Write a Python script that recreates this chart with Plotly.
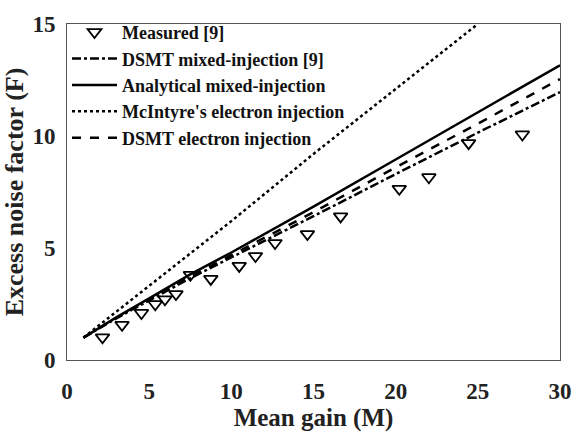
import plotly.graph_objects as go

# Measured data [9]
meas_M = [2.16, 3.35, 4.53, 5.37, 5.96, 6.63, 7.51, 8.75, 10.48, 11.47, 12.66, 14.63, 16.65, 20.22, 22.02, 24.44, 27.71]
meas_F = [1.01, 1.57, 2.10, 2.49, 2.71, 2.94, 3.80, 3.62, 4.20, 4.64, 5.22, 5.62, 6.41, 7.64, 8.16, 9.68, 10.07]

# Model curves
curve_M = [1, 3, 5, 7.5, 10, 15, 20, 25, 30]
dsmt_mixed_F = [1.0, 1.86, 2.66, 3.65, 4.58, 6.42, 8.30, 10.15, 11.96]
analytical_F = [1.0, 1.90, 2.75, 3.82, 4.80, 6.85, 8.95, 11.05, 13.16]
dsmt_elec_F = [1.0, 1.88, 2.70, 3.72, 4.68, 6.60, 8.60, 10.55, 12.54]

mcintyre_M = [1, 3, 5, 10, 15, 20, 25]
mcintyre_F = [1.0, 2.15, 3.30, 6.20, 9.20, 12.10, 15.0]

# Tick labels
x_tick_vals = list(range(0, 31))
x_tick_text = [str(v) if v % 5 == 0 else "" for v in x_tick_vals]
y_tick_vals = list(range(0, 16))
y_tick_text = [str(v) if v % 5 == 0 else "" for v in y_tick_vals]

font_family = "Liberation Serif"

fig = go.Figure()
fig.add_trace(go.Scatter(x=meas_M, y=meas_F, mode="markers", name="Measured [9]",
                         marker=dict(symbol="triangle-down-open", size=12, color="black",
                                     line=dict(width=1.8, color="black"))))
fig.add_trace(go.Scatter(x=curve_M, y=dsmt_mixed_F, mode="lines", name="DSMT mixed-injection [9]",
                         line=dict(color="black", width=2.5, dash="dashdot")))
fig.add_trace(go.Scatter(x=curve_M, y=analytical_F, mode="lines", name="Analytical mixed-injection",
                         line=dict(color="black", width=2.5, dash="solid")))
fig.add_trace(go.Scatter(x=mcintyre_M, y=mcintyre_F, mode="lines", name="McIntyre's electron injection",
                         line=dict(color="black", width=2.5, dash="dot")))
fig.add_trace(go.Scatter(x=curve_M, y=dsmt_elec_F, mode="lines", name="DSMT electron injection",
                         line=dict(color="black", width=2.5, dash="dash")))

main_axis = dict(
    showgrid=False, zeroline=False, showline=True, linecolor="#555", linewidth=1,
    mirror=True, ticks="", tickmode="array",
    tickfont=dict(family=font_family, size=23, color="#222", weight="bold"),
)

# Tick-only helper axes: their "outside" ticks point into the plot area
tick_axis = dict(
    showgrid=False, zeroline=False, showline=False, showticklabels=False,
    ticks="outside", ticklen=5, tickcolor="#555", tickwidth=1,
    tickmode="array", anchor="free",
)

fig.update_layout(
    width=584, height=435,
    margin=dict(l=67, r=12, t=15, b=75),
    plot_bgcolor="white", paper_bgcolor="white",
    xaxis=dict(range=[0, 30], tickvals=x_tick_vals, ticktext=x_tick_text, ticklabelstandoff=10,
               title=dict(text="Mean gain (M)", standoff=2,
                          font=dict(family=font_family, size=25, color="#222", weight="bold")),
               **main_axis),
    yaxis=dict(range=[0, 15], tickvals=y_tick_vals, ticktext=y_tick_text, ticklabelstandoff=6,
               title=dict(text="Excess noise factor (F)", standoff=2,
                          font=dict(family=font_family, size=26, color="#222", weight="bold")),
               **main_axis),
    xaxis2=dict(overlaying="x", side="top", position=0, range=[0, 30], tickvals=x_tick_vals, **tick_axis),
    xaxis3=dict(overlaying="x", side="bottom", position=1, range=[0, 30], tickvals=x_tick_vals, **tick_axis),
    yaxis2=dict(overlaying="y", side="right", position=0, range=[0, 15], tickvals=y_tick_vals, **tick_axis),
    yaxis3=dict(overlaying="y", side="left", position=1, range=[0, 15], tickvals=y_tick_vals, **tick_axis),
    legend=dict(x=0.0, y=1.03, xanchor="left", yanchor="top", bgcolor="rgba(0,0,0,0)",
                font=dict(family=font_family, size=18, color="#111", weight="bold"),
                tracegroupgap=0, itemwidth=45),
    showlegend=True,
)

fig.write_html("out.html")
